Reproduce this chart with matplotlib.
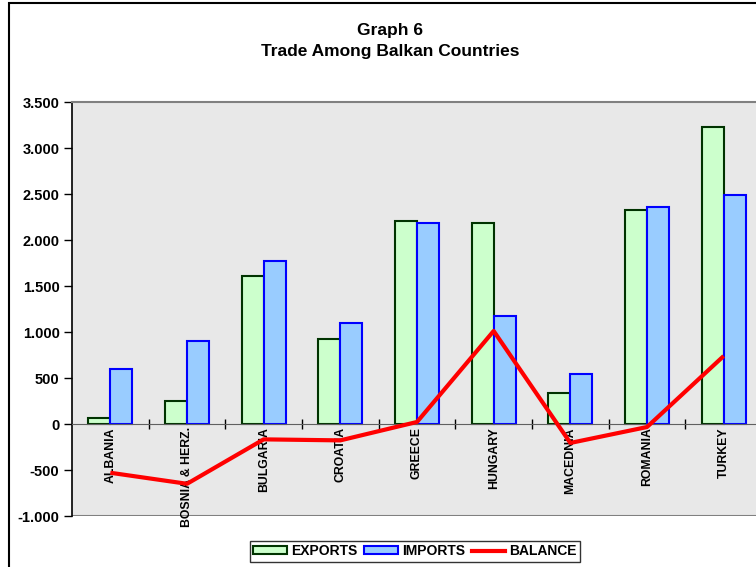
import numpy as np
import matplotlib
matplotlib.use('Agg')
import matplotlib.pyplot as plt
from matplotlib.patches import Rectangle, Patch
from matplotlib.lines import Line2D
from matplotlib.ticker import FuncFormatter

plt.rcParams['font.family'] = ['Liberation Sans', 'DejaVu Sans']
plt.rcParams['font.weight'] = 'bold'

#------------ DATA ------------
countries = ['ALBANIA', 'BOSNIA & HERZ.', 'BULGARIA', 'CROATIA', 'GREECE',
             'HUNGARY', 'MACEDNIA', 'ROMANIA', 'TURKEY']
exports = [70, 255, 1605, 920, 2207, 2185, 337, 2326, 3228]
imports = [600, 905, 1772, 1098, 2185, 1174, 543, 2359, 2489]
balance = [-530, -650, -167, -178, 22, 1011, -206, -33, 739]
yticks = [-1000, -500, 0, 500, 1000, 1500, 2000, 2500, 3000, 3500]

fig = plt.figure(figsize=(7.56, 5.67), dpi=100)
# outer chart frame
fig.patches.append(Rectangle((9/756, -0.1), 1.2, 1.1 - 2.5/567, transform=fig.transFigure,
                             fill=False, edgecolor='black', linewidth=1.5))

ax = fig.add_axes([72/756, 51/567, 690/756, 414/567])
ax.set_facecolor('#E8E8E8')

x = np.arange(len(countries))
w = 0.286
ax.bar(x - w/2, exports, w, color='#CCFFCC', edgecolor='#003300', linewidth=1.5, zorder=2)
ax.bar(x + w/2, imports, w, color='#99CCFF', edgecolor='#0000FF', linewidth=1.5, zorder=2)
ax.plot(x, balance, color='#FF0000', linewidth=3, zorder=4, solid_capstyle='butt')

ax.set_xlim(-0.5, len(countries) - 0.5)
ax.set_ylim(-1000, 3500)
ax.set_yticks(yticks)
ax.yaxis.set_major_formatter(FuncFormatter(lambda v, p: '{:,.0f}'.format(v).replace(',', '.')))
ax.tick_params(axis='y', labelsize=10.5, length=6, width=1, pad=3)

# zero axis with category boundary ticks
ax.spines['bottom'].set_position(('data', 0))
ax.spines['bottom'].set_color('#606060')
ax.spines['bottom'].set_zorder(3)
ax.set_xticks(np.arange(0.5, len(countries) - 1, 1.0))
ax.set_xticklabels([])
ax.tick_params(axis='x', direction='inout', length=7, width=1, color='black')
ax.axhline(-1000, color='#808080', linewidth=1.5, zorder=1)
ax.spines['top'].set_color('#808080')
ax.spines['top'].set_linewidth(1.5)
ax.spines['right'].set_visible(False)
ax.spines['left'].set_linewidth(1.2)

for i, name in enumerate(countries):
    ax.text(i, -35, name, rotation=90, ha='center', va='top', fontsize=8.8,
            fontweight='bold', zorder=3)

fig.text(0.516, 0.947, 'Graph 6', ha='center', va='center', fontsize=12.5, fontweight='bold')
fig.text(0.516, 0.910, 'Trade Among Balkan Countries', ha='center', va='center',
         fontsize=12.5, fontweight='bold')

handles = [Patch(facecolor='#CCFFCC', edgecolor='#003300', linewidth=1.5),
           Patch(facecolor='#99CCFF', edgecolor='#0000FF', linewidth=1.5),
           Line2D([], [], color='#FF0000', linewidth=3)]
leg = fig.legend(handles, ['EXPORTS', 'IMPORTS', 'BALANCE'], loc='center',
                 bbox_to_anchor=(0.549, 0.028), ncol=3, fontsize=10, frameon=True,
                 fancybox=False, edgecolor='black', handlelength=2.4, handleheight=0.55,
                 columnspacing=0.5, handletextpad=0.3, borderpad=0.25)
leg.get_frame().set_linewidth(1)

fig.savefig('out.png', dpi=100)
